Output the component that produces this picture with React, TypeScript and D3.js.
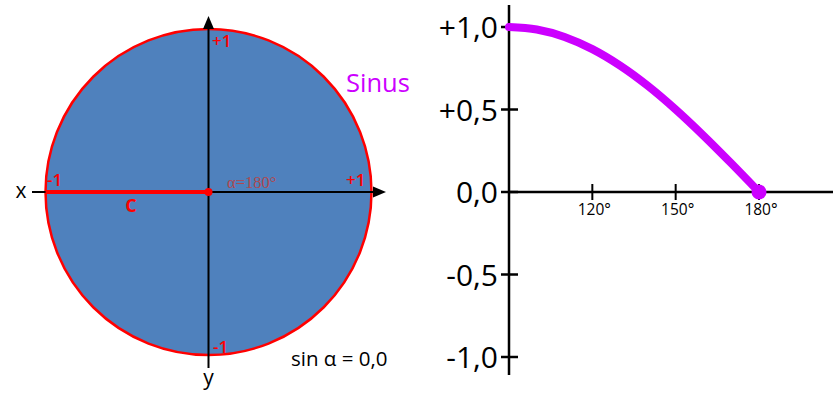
import React from "react";
import * as d3 from "d3";

const angles = [90, 100, 110, 120, 130, 140, 150, 160, 170, 180];
const sinValues = [1.0, 0.985, 0.94, 0.866, 0.766, 0.643, 0.5, 0.342, 0.174, 0.0];
const yTicks = [-1, -0.5, 0, 0.5, 1];
const yTickLabels = ["-1,0", "-0,5", "0,0", "+0,5", "+1,0"];
const xTicks = [120, 150, 180];
const xTickLabels = ["120°", "150°", "180°"];
const currentAngle = 180;
const currentSin = 0.0;

const SANS = "'Open Sans', 'Noto Sans', sans-serif";
const RED = "#ff0000";
const MAGENTA = "#cc00ff";

export default function App() {
  // left unit circle
  const c = d3.scaleLinear().domain([-1, 1]).range([45.5, 371.5]);
  const cv = d3.scaleLinear().domain([-1, 1]).range([355, 29]);
  const cx = c(0);
  const cy = cv(0);
  const r = c(1) - c(0);

  // right chart
  const x = d3.scaleLinear().domain([90, 180]).range([509, 759]);
  const y = d3.scaleLinear().domain([-1, 1]).range([357, 27]);
  const pts = angles.map((a, i) => [a, sinValues[i]] as [number, number]);
  const line = d3
    .line<[number, number]>()
    .x((d) => x(d[0]))
    .y((d) => y(d[1]))
    .curve(d3.curveMonotoneX);

  return (
    <svg
      width={833}
      height={400}
      style={{ position: "absolute", left: 0, top: 0, background: "#fff" }}
    >
      {/* unit circle */}
      <circle cx={cx} cy={cy} r={r} fill="#4f81bd" stroke={RED} strokeWidth={2.5} />
      {/* axes */}
      <line x1={cx} x2={cx} y1={368} y2={26} stroke="#000" strokeWidth={2} />
      <polygon points={`${cx},16 ${cx - 5.5},29 ${cx + 5.5},29`} fill="#000" />
      <line x1={32} x2={375} y1={cy} y2={cy} stroke="#000" strokeWidth={2} />
      <polygon points={`386,${cy} 373,${cy - 5.5} 373,${cy + 5.5}`} fill="#000" />
      {/* radius */}
      <line
        x1={c(Math.cos((currentAngle * Math.PI) / 180))}
        x2={cx}
        y1={cy}
        y2={cy}
        stroke={RED}
        strokeWidth={4}
      />
      <circle cx={cx} cy={cy} r={4} fill={RED} />
      {/* labels */}
      <g fontFamily={SANS} fill={RED} fontSize={17} fontWeight={600}>
        <text x={212} y={47}>+1</text>
        <text x={47} y={186}>-1</text>
        <text x={346} y={186}>+1</text>
        <text x={213} y={353}>-1</text>
        <text x={131} y={212} textAnchor="middle" fontWeight="bold" fontSize={18}>C</text>
      </g>
      <text x={227} y={188} fontFamily="'Liberation Serif', serif" fontSize={16.5} fill="#b0484f">
        α=180°
      </text>
      <text x={346} y={92} fontFamily={SANS} fontSize={25.5} fill={MAGENTA}>Sinus</text>
      <text x={291} y={366} fontFamily={SANS} fontSize={20.5} fill="#000">
        sin α = {currentSin.toFixed(1).replace(".", ",")}
      </text>
      <text x={21} y={198} fontFamily={SANS} fontSize={21} textAnchor="middle">x</text>
      <text x={cx} y={385} fontFamily={SANS} fontSize={21} textAnchor="middle">y</text>

      {/* right chart axes */}
      <line x1={x(90)} x2={x(90)} y1={5} y2={375} stroke="#000" strokeWidth={2.5} />
      <line x1={x(90)} x2={833} y1={y(0)} y2={y(0)} stroke="#000" strokeWidth={2.5} />
      {yTicks.map((t, i) => (
        <g key={t}>
          <line x1={501} x2={518} y1={y(t)} y2={y(t)} stroke="#000" strokeWidth={2.5} />
          <text
            x={498}
            y={y(t) + 11}
            textAnchor="end"
            fontFamily={SANS}
            fontSize={30}
            fill="#000"
          >
            {yTickLabels[i]}
          </text>
        </g>
      ))}
      {xTicks.map((t, i) => (
        <g key={t}>
          <line x1={x(t)} x2={x(t)} y1={y(0) - 8} y2={y(0) + 8} stroke="#000" strokeWidth={2} />
          <text
            x={x(t) + 2}
            y={215}
            textAnchor="middle"
            fontFamily={SANS}
            fontSize={15.5}
            fill="#000"
          >
            {xTickLabels[i]}
          </text>
        </g>
      ))}
      <path
        d={line(pts) || ""}
        fill="none"
        stroke={MAGENTA}
        strokeWidth={8}
        strokeLinecap="round"
      />
      <circle cx={x(currentAngle)} cy={y(currentSin)} r={7.5} fill={MAGENTA} />
    </svg>
  );
}
